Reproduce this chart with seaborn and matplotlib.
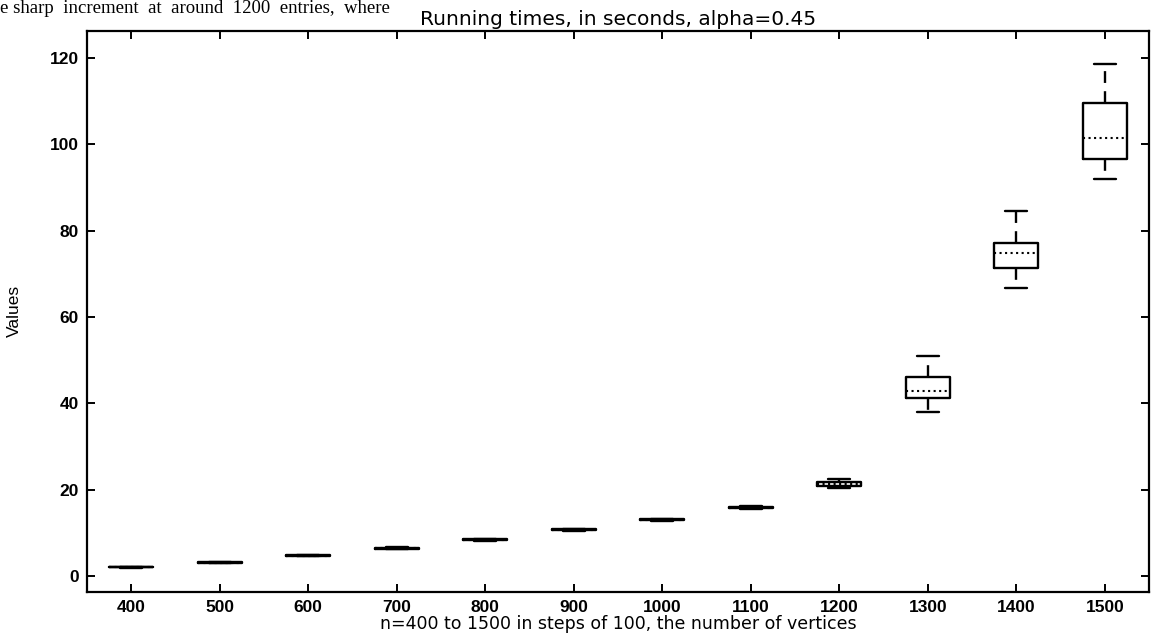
import numpy as np
import pandas as pd
import matplotlib
matplotlib.use("Agg")
import matplotlib.pyplot as plt
import seaborn as sns

# five-number summaries (seconds)
n_vertices = ["400", "500", "600", "700", "800", "900",
              "1000", "1100", "1200", "1300", "1400", "1500"]
low_whisker = [1.9, 3.0, 4.6, 6.2, 8.2, 10.5, 12.8, 15.5, 20.3, 38.0, 66.7, 92.0]
q1 = [1.95, 3.05, 4.65, 6.3, 8.3, 10.6, 12.9, 15.7, 20.8, 41.2, 71.4, 96.6]
median = [2.0, 3.1, 4.7, 6.4, 8.4, 10.7, 13.0, 15.8, 21.3, 42.9, 74.8, 101.5]
q3 = [2.05, 3.2, 4.8, 6.5, 8.5, 10.8, 13.1, 15.9, 21.8, 46.1, 77.1, 109.6]
high_whisker = [2.1, 3.3, 4.9, 6.6, 8.6, 10.9, 13.2, 16.3, 22.4, 51.0, 84.6, 118.6]

rows = []
for i, n in enumerate(n_vertices):
    for v in (low_whisker[i], q1[i], median[i], q3[i], high_whisker[i]):
        rows.append({"n": n, "t": v})
df = pd.DataFrame(rows)

sns.set_style("ticks")
plt.rcParams["font.family"] = ["Liberation Sans", "DejaVu Sans"]
plt.rcParams["text.color"] = "black"
plt.rcParams["axes.labelcolor"] = "black"

fig = plt.figure(figsize=(11.56, 6.33), dpi=100)
ax = fig.add_axes([0.0753, 0.065, 0.9187, 0.886])

sns.boxplot(data=df, x="n", y="t", order=n_vertices, ax=ax,
            width=0.5, whis=(0, 100), fill=False, color="black",
            linewidth=1.7, showfliers=False,
            medianprops=dict(linestyle=":", linewidth=1.5),
            whiskerprops=dict(linestyle=(0, (5, 3.5)), linewidth=1.7))

ax.set_xlim(-0.5, 11.5)
ax.set_ylim(-3.7, 126.3)
ax.set_yticks(np.arange(0, 121, 20))

for side in ["left", "right", "top", "bottom"]:
    ax.spines[side].set_visible(True)
    ax.spines[side].set_linewidth(1.6)
    ax.spines[side].set_color("black")

ax.tick_params(direction="in", top=True, right=True, length=6, width=1.4,
               labelsize=12.5, pad=6, colors="black")
for lab in ax.get_xticklabels() + ax.get_yticklabels():
    lab.set_fontweight("bold")

ax.set_title("Running times, in seconds, alpha=0.45", fontsize=14.5,
             family=["DejaVu Sans"], color="black", pad=4)
ax.set_xlabel("n=400 to 1500 in steps of 100, the number of vertices",
              fontsize=12.5, family=["DejaVu Sans"], labelpad=0)
ax.set_ylabel("Values", fontsize=12.5)
ax.yaxis.set_label_coords(-0.061, 0.5)

# line of body text from the page above the figure
fig.text(0.0, 1 - 13 / 633, "e sharp  increment  at  around  1200  entries,  where",
         family=["Liberation Serif", "DejaVu Serif"], fontsize=13.5,
         va="baseline", ha="left")

fig.savefig("out.png", dpi=100, facecolor="white")
